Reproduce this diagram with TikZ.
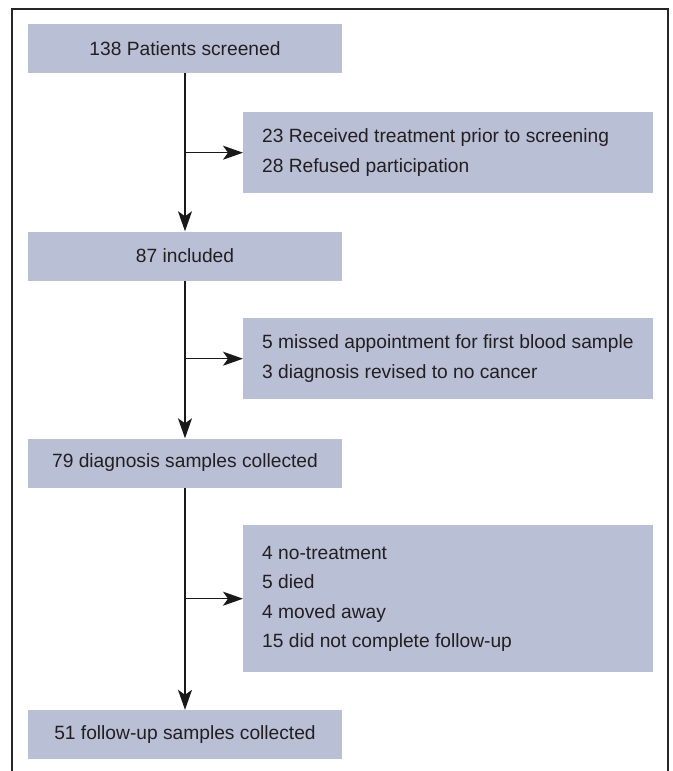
\documentclass[tikz,border=0pt]{standalone}
\usepackage{fontspec}
\setmainfont{Liberation Sans}
\usetikzlibrary{arrows.meta}
\definecolor{boxfill}{RGB}{185,191,212}
\definecolor{txt}{RGB}{35,31,32}
\tikzset{
  mainbox/.style={fill=boxfill, draw=none, minimum width=314pt, minimum height=49pt, inner sep=0pt, text=txt, font=\fontsize{19.2}{29.5}\selectfont},
  sidebox/.style={fill=boxfill, draw=none, minimum width=410pt, inner sep=0pt, anchor=north west},
  sidetext/.style={align=left, anchor=west, inner sep=0pt, text=txt, font=\fontsize{19.2}{29.5}\selectfont},
  flow/.style={line width=1.5pt, draw=black!90, -{Stealth[length=20pt,width=14pt,inset=5pt]}},
  frameline/.style={line width=1.3pt, draw=black!85}
}
\begin{document}
\begin{tikzpicture}[x=1pt,y=-1pt]
\useasboundingbox (0,0) rectangle (672,771);
\draw[frameline] (12,771) -- (12,9) -- (668,9) -- (668,771);

\node[mainbox] (b1) at (185,48.5) {138 Patients screened};
\node[mainbox] (b2) at (185,256) {87 included};
\node[mainbox] (b3) at (185,463) {79 diagnosis samples collected};
\node[mainbox] (b4) at (185,734.5) {51 follow-up samples collected};

\node[sidebox, minimum height=81pt] (s1) at (243,112) {};
\node[sidebox, minimum height=81pt] (s2) at (243,318) {};
\node[sidebox, minimum height=147pt] (s3) at (243,525) {};
\node[sidetext] (t1) at ([xshift=19pt]s1.west) {23 Received treatment prior to screening\\28 Refused participation};
\node[sidetext] (t2) at ([xshift=19pt]s2.west) {5 missed appointment for first blood sample\\3 diagnosis revised to no cancer};
\node[sidetext] (t3) at ([xshift=19pt]s3.west) {4 no-treatment\\5 died\\4 moved away\\15 did not complete follow-up};

\draw[flow] (b1.south) -- (b2.north);
\draw[flow] (b2.south) -- (b3.north);
\draw[flow] (b3.south) -- (b4.north);
\draw[flow] (b1.south |- s1.west) -- (s1.west);
\draw[flow] (b2.south |- s2.west) -- (s2.west);
\draw[flow] (b3.south |- s3.west) -- (s3.west);
\end{tikzpicture}
\end{document}
